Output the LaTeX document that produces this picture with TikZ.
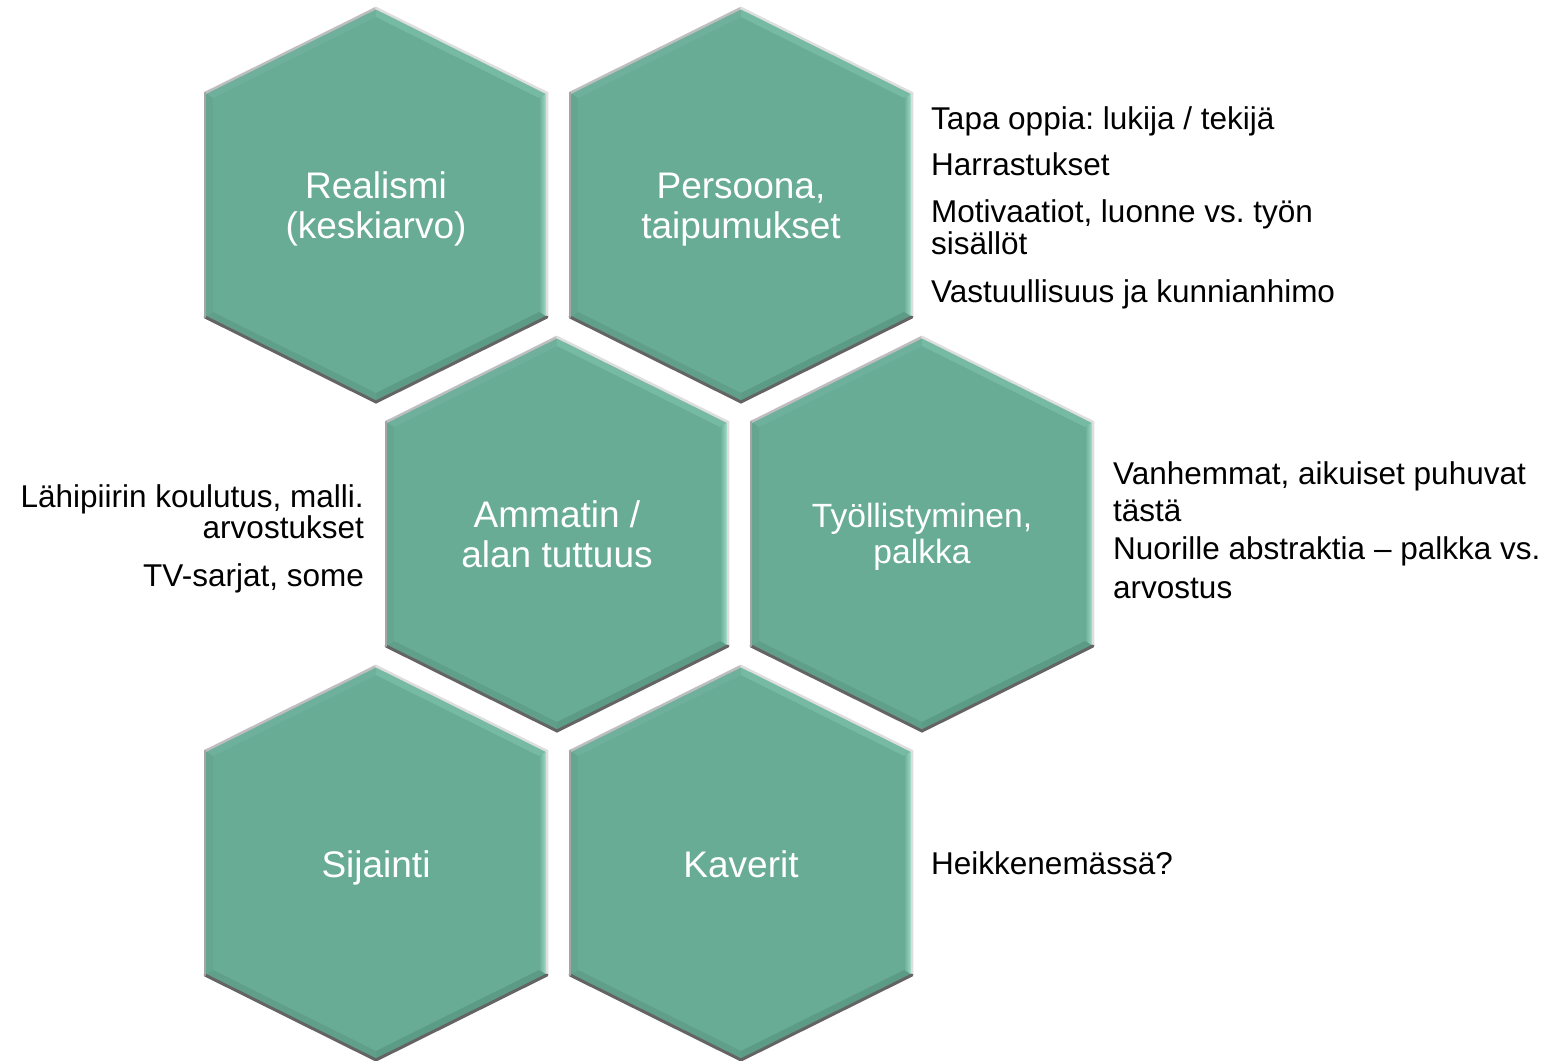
\documentclass[tikz,border=0pt]{standalone}
\usepackage{fontspec}
\setmainfont{Liberation Sans}
\frenchspacing
\definecolor{hexfill}{RGB}{105,172,150}
\definecolor{facetTLc}{RGB}{110,176,155}
\definecolor{facetTRc}{RGB}{118,186,163}
\definecolor{mintc}{RGB}{166,226,206}
\definecolor{facetBRc}{RGB}{92,155,134}
\definecolor{facetBLc}{RGB}{96,160,139}
\definecolor{facetLc}{RGB}{100,166,144}
\tikzset{
  hexlabel/.style={text=white, align=center, inner sep=0pt, font=\fontsize{37}{39.5}\selectfont},
  sidetext/.style={text=black, inner sep=0pt, font=\fontsize{31.5}{31.5}\selectfont},
  rimlight/.style={draw={rgb,255:red,190;green,190;blue,190}, line width=2.5pt, line cap=round},
  rimwhite/.style={draw={rgb,255:red,222;green,222;blue,222}, line width=2.5pt, line cap=round},
  rimdark/.style={draw={rgb,255:red,100;green,100;blue,100}, line width=3pt, line cap=round},
  rimgrey/.style={draw={rgb,255:red,165;green,165;blue,165}, line width=2.5pt, line cap=round},
}
\newcommand\hexcell[2]{%
\begin{scope}[shift={(#1,#2)}]
 \fill[hexfill] (0,-197) -- (171,-112) -- (171,112) -- (0,197) -- (-171,112) -- (-171,-112) -- cycle;
 \fill[facetTLc] (-171,-112) -- (0,-197) -- (0,-188) -- (-163,-107) -- cycle;
 \fill[facetTRc] (0,-197) -- (171,-112) -- (163,-107) -- (0,-188) -- cycle;
 \shade[left color=hexfill, right color=mintc] (171,-112) -- (171,112) -- (163,107) -- (163,-107) -- cycle;
 \fill[facetBRc] (171,112) -- (0,197) -- (0,188) -- (163,107) -- cycle;
 \fill[facetBLc] (0,197) -- (-171,112) -- (-163,107) -- (0,188) -- cycle;
 \fill[facetLc] (-171,112) -- (-171,-112) -- (-163,-107) -- (-163,107) -- cycle;
 \draw[rimlight] (-171,-112) -- (0,-197);
 \draw[rimwhite] (0,-197) -- (171,-112) -- (171,112);
 \draw[rimdark] (171,112) -- (0,197) -- (-171,112);
 \draw[rimgrey] (-171,112) -- (-171,-112);
\end{scope}}
\begin{document}
\begin{tikzpicture}[x=1pt, y=-1pt]
\useasboundingbox[fill=white] (0,0) rectangle (1549,1060);

% hexagons
\hexcell{376}{205}
\hexcell{741}{205}
\hexcell{557}{534}
\hexcell{922}{534}
\hexcell{376}{863}
\hexcell{741}{863}

% labels (base anchor = baseline of last line)
\node[hexlabel, anchor=base] (realismi) at (376,238) {Realismi\\(keskiarvo)};
\node[hexlabel, anchor=base] (persoona) at (741,238) {Persoona,\\taipumukset};
\node[hexlabel, anchor=base] (ammatin) at (557,567) {Ammatin /\\alan tuttuus};
\node[hexlabel, anchor=base, font=\fontsize{33.6}{36}\selectfont] (tyollistyminen) at (922,563) {Työllistyminen,\\palkka};
\node[hexlabel, anchor=base] (sijainti) at (376,877) {Sijainti};
\node[hexlabel, anchor=base] (kaverit) at (741,877) {Kaverit};

% side notes
\node[sidetext, anchor=base west, align=left] (persoonaNotes) at (931,302)
  {Tapa oppia: lukija / tekijä\\[14.5pt]Harrastukset\\[15.5pt]Motivaatiot, luonne vs. työn\\sisällöt\\[16.5pt]Vastuullisuus ja kunnianhimo};
\node[sidetext, anchor=base east, align=right] (ammatinNotes) at (364,586)
  {Lähipiirin koulutus, malli.\\arvostukset\\[16pt]TV-sarjat, some};
\node[sidetext, anchor=base west, align=left] (tyoNotes) at (1113,598)
  {Vanhemmat, aikuiset puhuvat\\[5.5pt]tästä\\[6.5pt]Nuorille abstraktia – palkka vs.\\[7.5pt]arvostus};
\node[sidetext, anchor=base west] (kaveritNotes) at (931,874) {Heikkenemässä?};
\end{tikzpicture}
\end{document}
